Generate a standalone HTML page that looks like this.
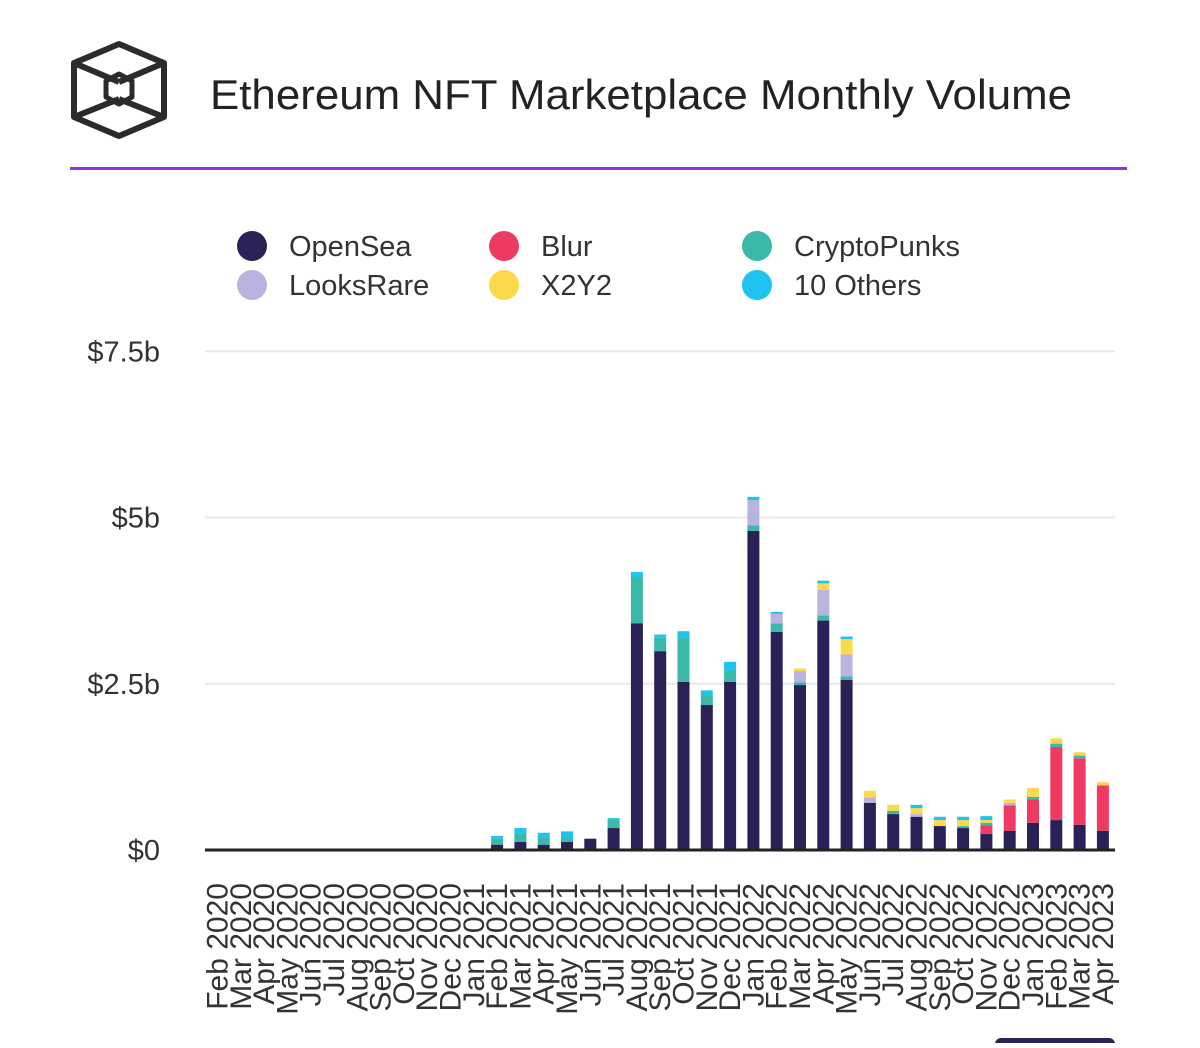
<!DOCTYPE html>
<html><head><meta charset="utf-8"><style>
body{margin:0;background:#fff;width:1200px;height:1043px;overflow:hidden;font-family:"Liberation Sans",sans-serif;}
</style></head><body>
<svg id="chart" width="1200" height="1043" xmlns="http://www.w3.org/2000/svg">
<g fill="none" stroke="#2b2b2b" stroke-width="6" stroke-linejoin="round">
<polygon points="119,44 164,63 164,117 119,136 74,117 74,63"/>
<line x1="74" y1="63" x2="119" y2="82"/><line x1="164" y1="63" x2="119" y2="82"/>
<line x1="74" y1="117" x2="119" y2="99"/><line x1="164" y1="117" x2="119" y2="99"/>
<polygon points="119,74 132,81 132,97 119,104 106,97 106,81" stroke-width="5"/>
</g>
<text x="210" y="109" font-size="42" fill="#222" textLength="862" lengthAdjust="spacingAndGlyphs">Ethereum NFT Marketplace Monthly Volume</text>
<rect x="70" y="167" width="1057" height="3" fill="#9a2fe0"/>
<g id="legend"></g>
<g id="grid"></g>
<g id="bars"></g>
<g id="xlabels"></g>
<rect x="995" y="1038" width="120" height="20" rx="6" fill="#2a2157"/>
</svg>
<script>
const months=["Feb 2020","Mar 2020","Apr 2020","May 2020","Jun 2020","Jul 2020","Aug 2020","Sep 2020","Oct 2020","Nov 2020","Dec 2020","Jan 2021","Feb 2021","Mar 2021","Apr 2021","May 2021","Jun 2021","Jul 2021","Aug 2021","Sep 2021","Oct 2021","Nov 2021","Dec 2021","Jan 2022","Feb 2022","Mar 2022","Apr 2022","May 2022","Jun 2022","Jul 2022","Aug 2022","Sep 2022","Oct 2022","Nov 2022","Dec 2022","Jan 2023","Feb 2023","Mar 2023","Apr 2023"];
const seriesNames=["OpenSea","Blur","CryptoPunks","LooksRare","X2Y2","10 Others"];
const seriesColors=["#2a2157","#ef3b63","#3ab8a8","#b9b3e0","#fcd94a","#1ec4ef"];
const openSea=[0,0,0,0,0,0,0,0,0,0,0,0,0.08,0.12,0.08,0.12,0.17,0.33,3.41,2.99,2.53,2.18,2.53,4.8,3.28,2.48,3.45,2.56,0.71,0.54,0.5,0.36,0.33,0.24,0.29,0.41,0.45,0.38,0.29];
const blur=[0,0,0,0,0,0,0,0,0,0,0,0,0,0,0,0,0,0,0,0,0,0,0,0,0,0,0,0,0,0,0,0,0,0.13,0.38,0.35,1.1,1.0,0.68];
const cryptoPunks=[0,0,0,0,0,0,0,0,0,0,0,0,0.09,0.13,0.1,0.06,0,0.13,0.68,0.2,0.67,0.15,0.17,0.08,0.13,0.04,0.08,0.05,0,0.05,0,0,0.03,0.04,0,0.04,0.05,0.04,0];
const looksRare=[0,0,0,0,0,0,0,0,0,0,0,0,0,0,0,0,0,0,0,0,0,0,0,0.38,0.14,0.17,0.38,0.33,0.08,0,0.04,0,0,0,0.04,0,0,0,0];
const x2y2=[0,0,0,0,0,0,0,0,0,0,0,0,0,0,0,0,0,0,0,0,0,0,0,0,0,0.04,0.1,0.23,0.1,0.09,0.09,0.09,0.09,0.04,0.05,0.13,0.08,0.05,0.05];
const others=[0,0,0,0,0,0,0,0,0,0,0,0,0.04,0.08,0.08,0.1,0,0.02,0.09,0.05,0.09,0.07,0.13,0.05,0.03,0,0.04,0.04,0,0,0.05,0.05,0.05,0.06,0,0,0,0,0];
const yTicks=[0,2.5,5,7.5];
const yTickLabels=["$0","$2.5b","$5b","$7.5b"];
const series=[openSea,blur,cryptoPunks,looksRare,x2y2,others];
const NS="http://www.w3.org/2000/svg";
const y=v=>850-v*66.5;
const x=i=>217.5+i*23.3;
function mk(tag,attrs,parent){const e=document.createElementNS(NS,tag);for(const k in attrs)e.setAttribute(k,attrs[k]);parent.appendChild(e);return e;}
const grid=document.getElementById('grid');
yTicks.forEach((t,i)=>{
 if(t>0){const l=mk('line',{x1:205,x2:1115,y1:y(t),y2:y(t),stroke:'#e8e8e8','stroke-width':2},grid);
 
 }
 const tx=mk('text',{x:160,y:y(t)+10,'text-anchor':'end','font-size':29,fill:'#333'},grid);
 tx.textContent=yTickLabels[i];
 
 
});
const bars=document.getElementById('bars');
months.forEach((m,i)=>{
 let acc=0;
 series.forEach((s,k)=>{
  const v=s[i]; if(!v)return;
  const r=mk('rect',{x:x(i)-6,y:y(acc+v),width:12,height:y(acc)-y(acc+v),fill:seriesColors[k]},bars);
  
  
  acc+=v;
 });
});
const base=mk('line',{x1:205,x2:1115,y1:850,y2:850,stroke:'#222','stroke-width':3},bars);


const xl=document.getElementById('xlabels');
months.forEach((m,i)=>{
 const t=mk('text',{transform:`translate(${x(i)+10},883) rotate(-90)`,'text-anchor':'end','font-size':30,fill:'#333'},xl);
 t.textContent=m;
 
 
});
const lg=document.getElementById('legend');
const legPos=[[252,246],[504,246],[757,246],[252,285],[504,285],[757,285]];
const legOrder=[0,1,2,3,4,5];
legOrder.forEach((k,j)=>{
 const [cx,cy]=legPos[j];
 const c=mk('circle',{cx:cx,cy:cy,r:15,fill:seriesColors[k]},lg);
 
 
 const t=mk('text',{x:cx+37,y:cy+10,'font-size':29,fill:'#333'},lg);
 t.textContent=seriesNames[k];
 
 
});
</script>
</body></html>
